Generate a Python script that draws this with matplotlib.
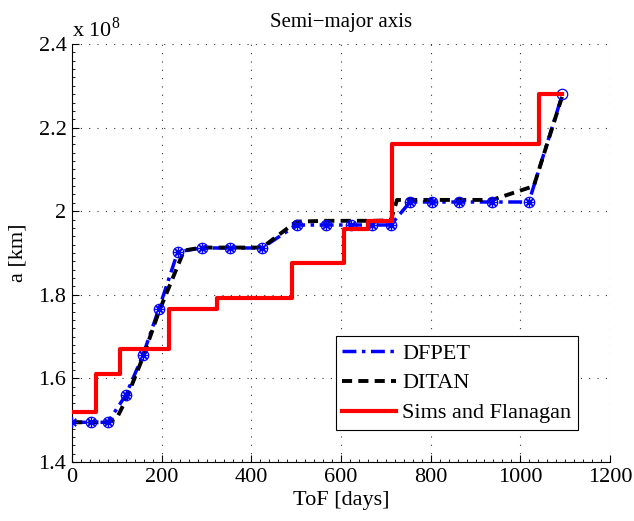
import numpy as np
import matplotlib
matplotlib.use('Agg')
import matplotlib.pyplot as plt
from matplotlib.ticker import MultipleLocator

# time of flight [days] and semi-major axis [x 1e8 km]
dfpet_tof = [0, 42, 80, 120, 158, 194, 236, 289, 352, 424, 501, 567, 622, 669, 711,
             754, 803, 863, 937, 1019, 1094]
dfpet_a = [1.495, 1.495, 1.495, 1.560, 1.655, 1.767, 1.903, 1.912, 1.912, 1.912, 1.967,
           1.967, 1.967, 1.967, 1.967, 2.022, 2.022, 2.022, 2.022, 2.022, 2.280]

ditan_tof = [0, 42, 80, 100, 120, 158, 194, 250, 289, 352, 424, 500, 567, 622, 669,
             711, 725, 754, 803, 863, 937, 1030, 1094]
ditan_a = [1.495, 1.495, 1.495, 1.505, 1.548, 1.650, 1.760, 1.906, 1.913, 1.913, 1.913,
           1.975, 1.977, 1.977, 1.977, 1.978, 2.027, 2.027, 2.027, 2.027, 2.027, 2.060, 2.277]

sf_tof = [0, 53, 108, 216, 323, 490, 607, 661, 714, 1042, 1094]
sf_a = [1.520, 1.611, 1.671, 1.767, 1.792, 1.875, 1.957, 1.977, 2.161, 2.280, 2.280]

x_ticks = [0, 200, 400, 600, 800, 1000, 1200]
y_ticks = [1.4, 1.6, 1.8, 2.0, 2.2, 2.4]
y_tick_labels = ['1.4', '1.6', '1.8', '2', '2.2', '2.4']

plt.rcParams['font.family'] = ['Liberation Serif', 'DejaVu Serif']
plt.rcParams['font.size'] = 16
plt.rcParams['mathtext.fontset'] = 'custom'
plt.rcParams['mathtext.rm'] = 'Liberation Serif'

fig = plt.figure(figsize=(6.34, 5.21), dpi=100)
ax = fig.add_axes([72/634, 1-462/521, 538/634, 418/521])

ax.plot(dfpet_tof, dfpet_a, color='b', lw=2.5, ls=(0, (4, 1.6, 1, 1.6)), zorder=2,
        label='DFPET')
ax.plot(ditan_tof, ditan_a, color='k', lw=2.8, ls=(0, (2.6, 1.6)), zorder=3, label='DITAN')
# markers: circles and asterisks overlap except first/last point
ax.plot(dfpet_tof[1:], dfpet_a[1:], ls='none', marker='o', ms=7.5, mfc='none', mec='b',
        mew=0.9, zorder=4)
ax.plot(dfpet_tof[:-1], dfpet_a[:-1], ls='none', marker=(8, 2, 0), ms=7.5, mec='b',
        mew=0.9, zorder=4)
ax.plot(sf_tof, sf_a, color='r', lw=3, drawstyle='steps-post', zorder=5,
        label='Sims and Flanagan')

ax.set_xlim(0, 1200)
ax.set_ylim(1.4, 2.4)
ax.set_xticks(x_ticks)
ax.set_yticks(y_ticks)
ax.set_yticklabels(y_tick_labels)
ax.xaxis.set_minor_locator(MultipleLocator(20))
ax.yaxis.set_minor_locator(MultipleLocator(0.02))
ax.tick_params(which='both', direction='in', top=False, right=False)
ax.tick_params(which='major', length=5, width=0.8, pad=4)
ax.tick_params(which='minor', length=2.5, width=0.6)
ax.grid(True, which='major', color='0.2', lw=0.8, ls=(0, (1, 6.5)))
for side in ('top', 'right'):
    ax.spines[side].set_visible(False)

ax.set_xlabel('ToF [days]', labelpad=3)
ax.set_ylabel('a [km]', labelpad=8)
ax.set_title('Semi\u2212major axis', fontsize=15, pad=12)
ax.text(0, 1.005, 'x 10$^{8}$', transform=ax.transAxes, ha='left', va='bottom')

leg = ax.legend(loc='lower right', bbox_to_anchor=(0.9405, 0.0766), fancybox=False,
                edgecolor='k', framealpha=1, handlelength=2.4, borderpad=0.3,
                labelspacing=0.42, handletextpad=0.3, borderaxespad=0)
leg.get_frame().set_linewidth(0.8)

fig.savefig('out.png', dpi=100)
